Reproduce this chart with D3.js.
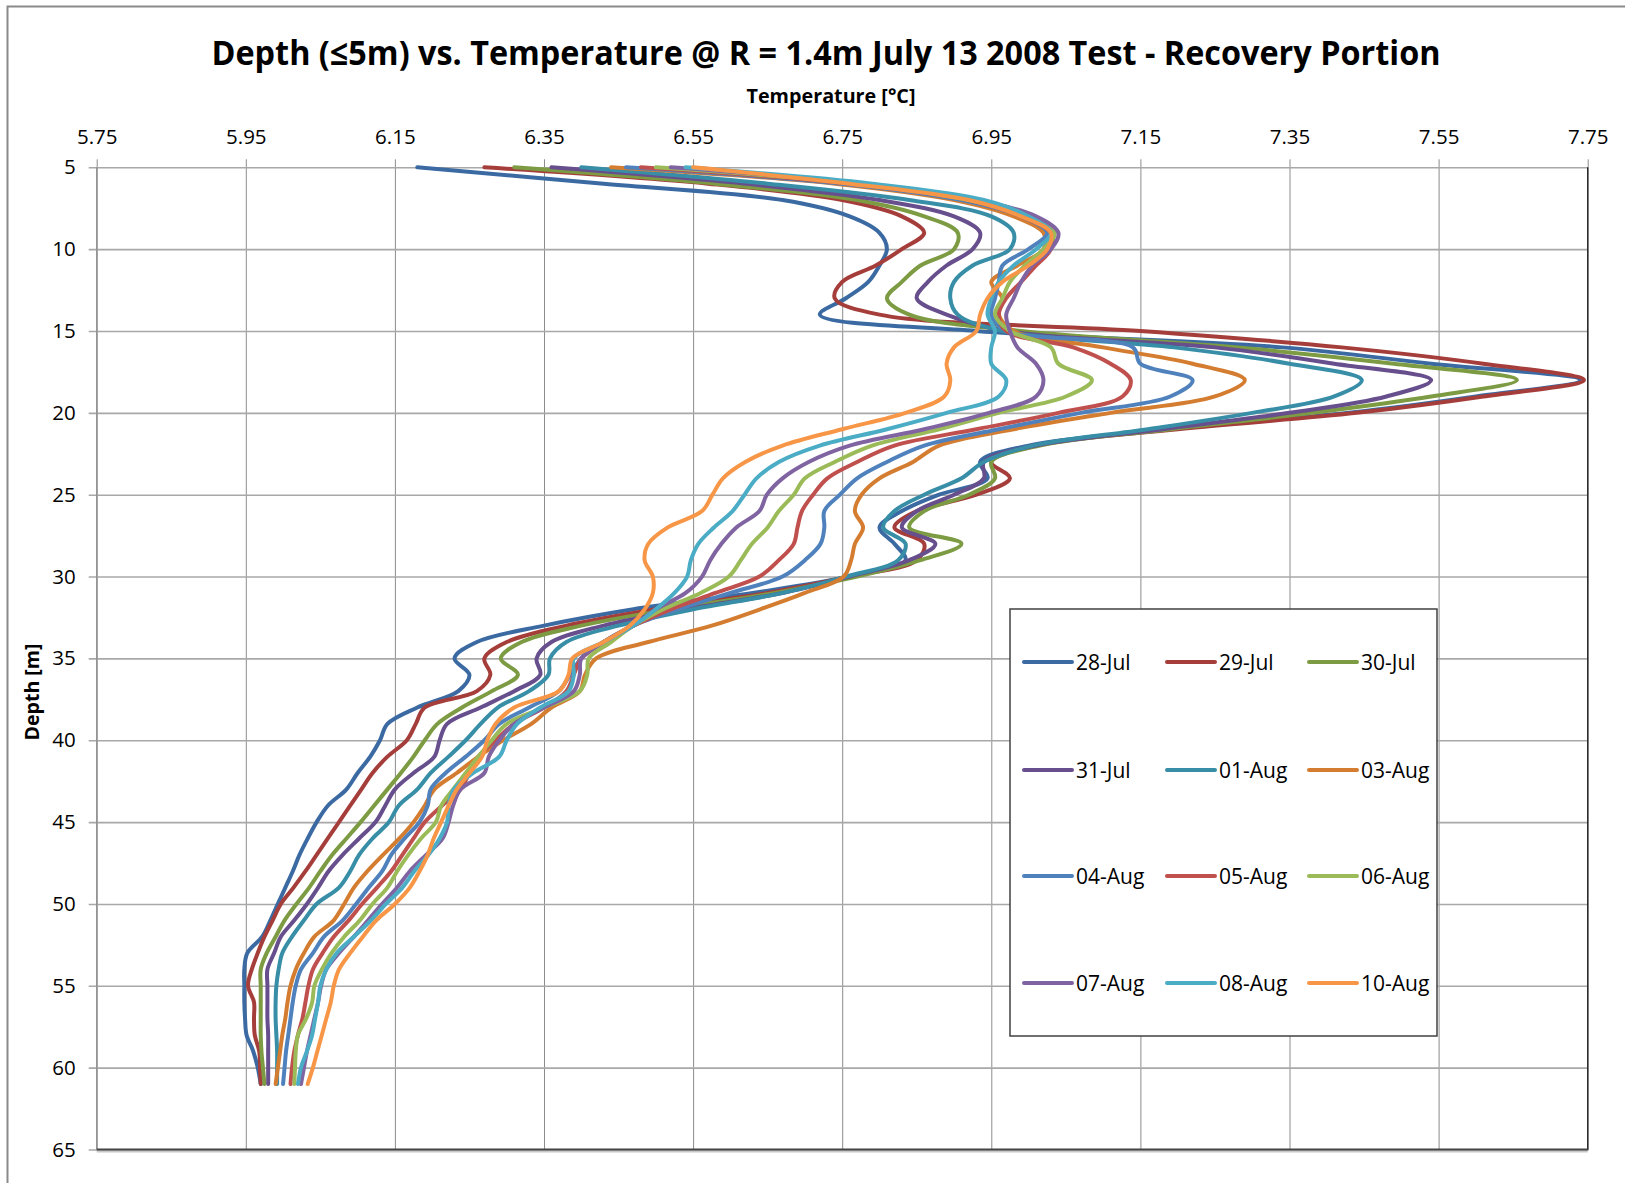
<!DOCTYPE html>
<html>
<head>
<meta charset="utf-8">
<script src="https://cdn.jsdelivr.net/npm/d3@7"></script>
<style>
  body { margin: 0; background: #fff; }
  text { font-family: "Open Sans", "DejaVu Sans", sans-serif; fill: #000; }
</style>
</head>
<body>
<svg id="chart" width="1625" height="1183"></svg>
<script>
// depth of every reading, metres (5 .. 61)
var depths = d3.range(5, 62);

var dates = ["28-Jul", "29-Jul", "30-Jul", "31-Jul", "01-Aug", "03-Aug",
             "04-Aug", "05-Aug", "06-Aug", "07-Aug", "08-Aug", "10-Aug"];

var colors = ["#3b6aa3", "#a53e3b", "#7d9b42", "#674e8c", "#378ea6", "#d47d30",
              "#4f81bd", "#c0504d", "#9bbb59", "#8064a2", "#4bacc6", "#f79646"];

// temperatures (degC), one per depth
var t28Jul = [6.18, 6.43, 6.67, 6.76, 6.80, 6.81, 6.80, 6.785, 6.755, 6.72,
              6.93, 7.34, 7.54, 7.74, 7.60, 7.43, 7.19, 7.00, 6.935, 6.945,
              6.88, 6.83, 6.80, 6.82, 6.835, 6.76, 6.63, 6.47, 6.35, 6.26,
              6.23, 6.25, 6.235, 6.18, 6.14, 6.13, 6.117, 6.10, 6.085, 6.06,
              6.045, 6.033, 6.022, 6.013, 6.003, 5.993, 5.983, 5.972, 5.952, 5.948,
              5.948, 5.948, 5.949, 5.951, 5.96, 5.966, 5.97];
var t29Jul = [6.27, 6.57, 6.75, 6.83, 6.86, 6.83, 6.795, 6.75, 6.74, 6.80,
              7.15, 7.42, 7.61, 7.745, 7.61, 7.44, 7.20, 7.01, 6.95, 6.975,
              6.93, 6.85, 6.82, 6.86, 6.85, 6.76, 6.65, 6.50, 6.38, 6.30,
              6.27, 6.278, 6.26, 6.19, 6.178, 6.166, 6.14, 6.12, 6.105, 6.09,
              6.075, 6.06, 6.045, 6.03, 6.014, 5.997, 5.986, 5.975, 5.966, 5.958,
              5.953, 5.961, 5.961, 5.962, 5.968, 5.969, 5.97];
var t30Jul = [6.31, 6.58, 6.77, 6.86, 6.905, 6.90, 6.855, 6.83, 6.81, 6.84,
              6.99, 7.28, 7.49, 7.655, 7.54, 7.38, 7.19, 7.015, 6.95, 6.955,
              6.92, 6.86, 6.84, 6.91, 6.855, 6.77, 6.66, 6.52, 6.40, 6.32,
              6.292, 6.315, 6.28, 6.24, 6.207, 6.19, 6.175, 6.158, 6.14, 6.122,
              6.104, 6.085, 6.066, 6.05, 6.035, 6.018, 6.002, 5.99, 5.978, 5.97,
              5.97, 5.97, 5.97, 5.97, 5.971, 5.973, 5.975];
var t31Jul = [6.36, 6.62, 6.80, 6.90, 6.935, 6.925, 6.89, 6.865, 6.85, 6.89,
              6.97, 7.25, 7.41, 7.54, 7.48, 7.35, 7.18, 7.01, 6.94, 6.94,
              6.90, 6.85, 6.83, 6.875, 6.84, 6.76, 6.67, 6.54, 6.43, 6.36,
              6.34, 6.345, 6.31, 6.265, 6.22, 6.21, 6.203, 6.175, 6.15, 6.137,
              6.124, 6.102, 6.08, 6.061, 6.047, 6.032, 6.015, 5.997, 5.988, 5.979,
              5.979, 5.979, 5.979, 5.98, 5.98, 5.98, 5.98];
var t01Aug = [6.40, 6.65, 6.84, 6.95, 6.98, 6.975, 6.925, 6.90, 6.895, 6.905,
              6.965, 7.195, 7.35, 7.447, 7.41, 7.30, 7.16, 7.006, 6.94, 6.91,
              6.86, 6.82, 6.805, 6.835, 6.825, 6.755, 6.67, 6.55, 6.45, 6.38,
              6.358, 6.356, 6.33, 6.288, 6.265, 6.245, 6.222, 6.198, 6.18, 6.155,
              6.142, 6.12, 6.102, 6.09, 6.075, 6.045, 6.028, 6.012, 5.999, 5.994,
              5.991, 5.99, 5.99, 5.991, 5.992, 5.992, 5.992];
var t03Aug = [6.44, 6.74, 6.90, 6.98, 7.02, 7.02, 6.985, 6.95, 6.965, 6.96,
              6.98, 7.10, 7.22, 7.29, 7.25, 7.11, 6.98, 6.88, 6.845, 6.80,
              6.776, 6.767, 6.778, 6.767, 6.762, 6.752, 6.70, 6.64, 6.575, 6.49,
              6.42, 6.405, 6.398, 6.36, 6.333, 6.295, 6.262, 6.233, 6.203, 6.19,
              6.175, 6.156, 6.134, 6.113, 6.095, 6.082, 6.068, 6.042, 6.028, 6.017,
              6.01, 6.006, 6.003, 5.999, 5.996, 5.993, 5.99];
var t04Aug = [6.46, 6.75, 6.91, 6.99, 7.025, 7.00, 6.965, 6.96, 6.955, 6.95,
              6.97, 7.14, 7.15, 7.22, 7.19, 7.07, 6.96, 6.86, 6.81, 6.77,
              6.747, 6.726, 6.726, 6.721, 6.70, 6.67, 6.60, 6.53, 6.47, 6.43,
              6.40, 6.385, 6.37, 6.33, 6.29, 6.27, 6.245, 6.218, 6.198, 6.194,
              6.183, 6.163, 6.145, 6.133, 6.115, 6.098, 6.08, 6.055, 6.04, 6.024,
              6.017, 6.013, 6.01, 6.007, 6.004, 6.002, 6.0];
var t05Aug = [6.48, 6.76, 6.92, 6.99, 7.03, 7.03, 7.01, 6.99, 6.97, 6.96,
              6.97, 7.06, 7.11, 7.137, 7.126, 7.04, 6.93, 6.82, 6.77, 6.73,
              6.711, 6.696, 6.69, 6.685, 6.665, 6.639, 6.58, 6.52, 6.47, 6.43,
              6.40, 6.39, 6.38, 6.35, 6.31, 6.285, 6.262, 6.25, 6.238, 6.213,
              6.19, 6.175, 6.16, 6.145, 6.126, 6.106, 6.088, 6.068, 6.053, 6.04,
              6.034, 6.03, 6.026, 6.02, 6.015, 6.012, 6.01];
var t06Aug = [6.50, 6.77, 6.92, 7.00, 7.035, 7.02, 6.995, 6.975, 6.965, 6.955,
              6.975, 7.03, 7.04, 7.085, 7.05, 6.96, 6.88, 6.79, 6.74, 6.70,
              6.685, 6.665, 6.65, 6.629, 6.614, 6.598, 6.56, 6.51, 6.47, 6.44,
              6.41, 6.408, 6.398, 6.35, 6.30, 6.28, 6.262, 6.245, 6.228, 6.212,
              6.205, 6.185, 6.168, 6.153, 6.14, 6.12, 6.103, 6.082, 6.065, 6.052,
              6.042, 6.039, 6.031, 6.02, 6.017, 6.016, 6.015];
var t07Aug = [6.52, 6.78, 6.93, 7.01, 7.04, 7.03, 7.005, 6.99, 6.98, 6.97,
              6.975, 6.985, 7.01, 7.02, 7.01, 6.947, 6.86, 6.76, 6.705, 6.67,
              6.649, 6.639, 6.608, 6.588, 6.573, 6.562, 6.54, 6.50, 6.47, 6.43,
              6.40, 6.398, 6.39, 6.35, 6.31, 6.29, 6.276, 6.27, 6.238, 6.228,
              6.222, 6.214, 6.192, 6.17, 6.153, 6.133, 6.114, 6.095, 6.075, 6.058,
              6.051, 6.047, 6.042, 6.037, 6.032, 6.028, 6.024];
var t08Aug = [6.54, 6.79, 6.94, 7.00, 7.03, 7.01, 6.98, 6.96, 6.95, 6.945,
              6.955, 6.95, 6.95, 6.97, 6.96, 6.89, 6.81, 6.72, 6.665, 6.635,
              6.619, 6.603, 6.578, 6.557, 6.547, 6.542, 6.525, 6.50, 6.47, 6.43,
              6.39, 6.39, 6.383, 6.345, 6.314, 6.30, 6.29, 6.255, 6.229, 6.222,
              6.22, 6.21, 6.195, 6.176, 6.16, 6.138, 6.118, 6.095, 6.072, 6.058,
              6.05, 6.047, 6.043, 6.039, 6.032, 6.024, 6.02];
var t10Aug = [6.55, 6.76, 6.92, 6.99, 7.03, 7.025, 7.00, 6.965, 6.945, 6.935,
              6.93, 6.90, 6.89, 6.895, 6.887, 6.835, 6.75, 6.67, 6.62, 6.59,
              6.576, 6.562, 6.516, 6.49, 6.485, 6.496, 6.496, 6.485, 6.465, 6.43,
              6.388, 6.383, 6.37, 6.31, 6.285, 6.274, 6.267, 6.25, 6.233, 6.222,
              6.212, 6.202, 6.194, 6.183, 6.17, 6.15, 6.125, 6.107, 6.09, 6.075,
              6.068, 6.064, 6.058, 6.052, 6.046, 6.04, 6.033];

var temps = [t28Jul, t29Jul, t30Jul, t31Jul, t01Aug, t03Aug,
             t04Aug, t05Aug, t06Aug, t07Aug, t08Aug, t10Aug];

var xTicks = [5.75, 5.95, 6.15, 6.35, 6.55, 6.75, 6.95, 7.15, 7.35, 7.55, 7.75];
var yTicks = [5, 10, 15, 20, 25, 30, 35, 40, 45, 50, 55, 60, 65];

// layout
var plot = {left: 96.7, right: 1587.7, top: 167.3, bottom: 1149.5};

var svg = d3.select("#chart");

// chart area border
svg.append("rect")
    .attr("x", 7.5).attr("y", 6.5)
    .attr("width", 1640).attr("height", 1200)
    .attr("fill", "#fff")
    .attr("stroke", "#8a8a8a")
    .attr("stroke-width", 2);

var x = d3.scaleLinear().domain([5.75, 7.75]).range([plot.left, plot.right]);
var y = d3.scaleLinear().domain([5, 65]).range([plot.top, plot.bottom]);

// vertical gridlines + top tick marks
var xAxis = d3.axisTop(x).tickValues(xTicks).tickFormat(d3.format(".2f"))
    .tickSizeInner(-(plot.bottom - plot.top)).tickSizeOuter(0).tickPadding(0);
var gx = svg.append("g")
    .attr("transform", "translate(0," + plot.top + ")")
    .call(xAxis);
gx.select(".domain").remove();
gx.selectAll(".tick line").attr("stroke", "#8c8c8c").attr("stroke-width", 1)
    .attr("y1", -8);
gx.selectAll(".tick text")
    .attr("y", -23)
    .style("font-size", "20.5px")
    .style("font-family", "'Open Sans', sans-serif")
    .attr("fill", "#000");

// horizontal gridlines + left tick marks
var yAxis = d3.axisLeft(y).tickValues(yTicks)
    .tickSizeInner(-(plot.right - plot.left)).tickSizeOuter(0).tickPadding(0);
var gy = svg.append("g")
    .attr("transform", "translate(" + plot.left + ",0)")
    .call(yAxis);
gy.select(".domain").remove();
gy.selectAll(".tick line").attr("stroke", "#a8a8a8").attr("stroke-width", 1.6)
    .attr("x1", -8);
gy.selectAll(".tick text")
    .attr("x", -21)
    .style("font-size", "20.5px")
    .style("font-family", "'Open Sans', sans-serif")
    .attr("fill", "#000");

// plot area edges
svg.append("line")
    .attr("x1", plot.left).attr("x2", plot.left)
    .attr("y1", plot.top).attr("y2", plot.bottom)
    .attr("stroke", "#8c8c8c").attr("stroke-width", 1.2);
svg.append("line")
    .attr("x1", plot.right).attr("x2", plot.right)
    .attr("y1", plot.top).attr("y2", plot.bottom)
    .attr("stroke", "#2b2b2b").attr("stroke-width", 1.4);
svg.append("line")
    .attr("x1", plot.left).attr("x2", plot.right)
    .attr("y1", plot.bottom + 2).attr("y2", plot.bottom + 2)
    .attr("stroke", "#c8c8c8").attr("stroke-width", 2);
svg.append("line")
    .attr("x1", plot.left).attr("x2", plot.right + 0.7)
    .attr("y1", plot.bottom).attr("y2", plot.bottom)
    .attr("stroke", "#444").attr("stroke-width", 1.8);

// profiles
var line = d3.line()
    .x(function(d) { return x(d.t); })
    .y(function(d) { return y(d.depth); })
    .curve(d3.curveCatmullRom.alpha(0.5));

var lines = svg.append("g");
temps.forEach(function(ts, i) {
    var pts = ts.map(function(t, j) { return {depth: depths[j], t: t}; });
    lines.append("path")
        .datum(pts)
        .attr("d", line)
        .attr("fill", "none")
        .attr("stroke", colors[i])
        .attr("stroke-width", 4)
        .attr("stroke-linejoin", "round")
        .attr("stroke-linecap", "round");
});

// titles
svg.append("text")
    .attr("x", 826).attr("y", 65)
    .attr("text-anchor", "middle")
    .attr("textLength", 1229).attr("lengthAdjust", "spacingAndGlyphs")
    .style("font-size", "34px").style("font-weight", "bold")
    .text("Depth (\u22645m) vs. Temperature @ R = 1.4m July 13 2008 Test - Recovery Portion");

svg.append("text")
    .attr("x", 831).attr("y", 103)
    .attr("text-anchor", "middle")
    .attr("textLength", 169).attr("lengthAdjust", "spacingAndGlyphs")
    .style("font-size", "20px").style("font-weight", "bold")
    .text("Temperature [\u00b0C]");

svg.append("text")
    .attr("transform", "translate(39,692) rotate(-90)")
    .attr("text-anchor", "middle")
    .attr("textLength", 97).attr("lengthAdjust", "spacingAndGlyphs")
    .style("font-size", "20px").style("font-weight", "bold")
    .text("Depth [m]");

// legend
var legend = svg.append("g");
legend.append("rect")
    .attr("x", 1010).attr("y", 609)
    .attr("width", 427).attr("height", 427)
    .attr("fill", "#fff")
    .attr("stroke", "#404040").attr("stroke-width", 1.5);

var colX = [1024, 1167, 1309];
var rowY = [662, 770, 876, 983];

dates.forEach(function(name, i) {
    var cx = colX[i % 3], cy = rowY[Math.floor(i / 3)];
    legend.append("line")
        .attr("x1", cx).attr("x2", cx + 48)
        .attr("y1", cy).attr("y2", cy)
        .attr("stroke", colors[i]).attr("stroke-width", 4)
        .attr("stroke-linecap", "round");
    legend.append("text")
        .attr("x", cx + 52).attr("y", cy)
        .attr("dy", "0.36em")
        .style("font-size", "21px")
        .text(name);
});
</script>
</body>
</html>
